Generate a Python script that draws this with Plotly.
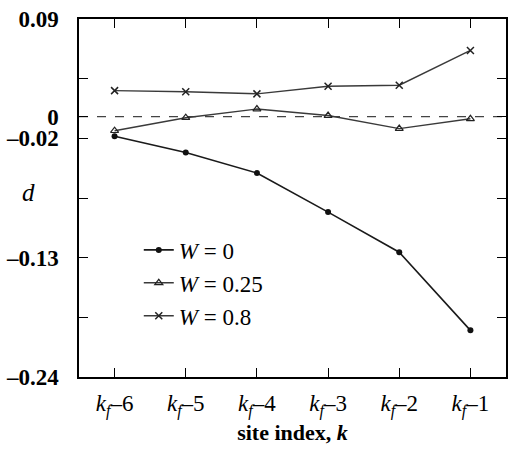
import plotly.graph_objects as go

# ---- data ----
categories = [1, 2, 3, 4, 5, 6]
tick_labels = ["<i>k<sub>f</sub></i>–6", "<i>k<sub>f</sub></i>–5", "<i>k<sub>f</sub></i>–4",
               "<i>k<sub>f</sub></i>–3", "<i>k<sub>f</sub></i>–2", "<i>k<sub>f</sub></i>–1"]
d_w0 = [-0.018, -0.033, -0.052, -0.088, -0.125, -0.197]
d_w025 = [-0.013, -0.001, 0.007, 0.001, -0.011, -0.002]
d_w08 = [0.024, 0.023, 0.021, 0.028, 0.029, 0.061]
series_names = ["<i>W</i> = 0", "<i>W</i> = 0.25", "<i>W</i> = 0.8"]
y_tickvals = [0.09, 0.035, 0, -0.02, -0.075, -0.13, -0.185, -0.24]
y_ticktext = ["0.09", "", "0", "–0.02", "", "–0.13", "", "–0.24"]

FONT = "Liberation Serif"

fig = go.Figure()
fig.add_trace(go.Scatter(
    x=categories, y=d_w0, name=series_names[0], mode="lines+markers",
    line=dict(color="#1a1a1a", width=1.6),
    marker=dict(symbol="circle", size=6, color="#111"),
))
fig.add_trace(go.Scatter(
    x=categories, y=d_w025, name=series_names[1], mode="lines+markers",
    line=dict(color="#3a3a3a", width=1.4),
    marker=dict(symbol="triangle-up-open", size=7, color="#222", line=dict(width=1.2)),
))
fig.add_trace(go.Scatter(
    x=categories, y=d_w08, name=series_names[2], mode="lines+markers",
    line=dict(color="#3a3a3a", width=1.4),
    marker=dict(symbol="x-thin-open", size=7, color="#222", line=dict(width=1.5)),
))

fig.add_shape(type="line", xref="paper", x0=0, x1=1, yref="y", y0=0, y1=0,
              line=dict(color="#444", width=1.3, dash="dash"), layer="below")

fig.update_layout(
    width=513, height=450,
    margin=dict(l=79, r=5, t=19, b=73),
    paper_bgcolor="white", plot_bgcolor="white",
    font=dict(family=FONT, color="black", size=22),
    showlegend=True,
    legend=dict(x=0.14, y=0.415, xanchor="left", yanchor="top",
                bgcolor="rgba(0,0,0,0)", font=dict(family=FONT, size=23),
                tracegroupgap=0),
    xaxis=dict(
        range=[0.5, 6.5], tickmode="array", tickvals=categories, ticktext=tick_labels,
        showline=True, linecolor="black", linewidth=1.5, mirror="ticks",
        ticks="inside", ticklen=9, tickcolor="black", tickwidth=1.2,
        showgrid=False, zeroline=False,
        tickfont=dict(family=FONT, size=23),
        ticklabelstandoff=5,
        title=dict(text="<b>site index, <i>k</i></b>", font=dict(family=FONT, size=22), standoff=2),
    ),
    yaxis=dict(
        range=[-0.24, 0.09], tickmode="array", tickvals=y_tickvals, ticktext=y_ticktext,
        showline=True, linecolor="black", linewidth=1.5, mirror="ticks",
        ticks="inside", ticklen=9, tickcolor="black", tickwidth=1.2,
        showgrid=False, zeroline=False,
        tickfont=dict(family=FONT, size=23, weight="bold"),
        ticklabelstandoff=14,
    ),
    annotations=[dict(text="<i>d</i>", xref="paper", yref="paper",
                      x=-0.118, y=0.515, showarrow=False, xanchor="center", yanchor="middle",
                      font=dict(family=FONT, size=25))],
)

fig.write_html("out.html")
